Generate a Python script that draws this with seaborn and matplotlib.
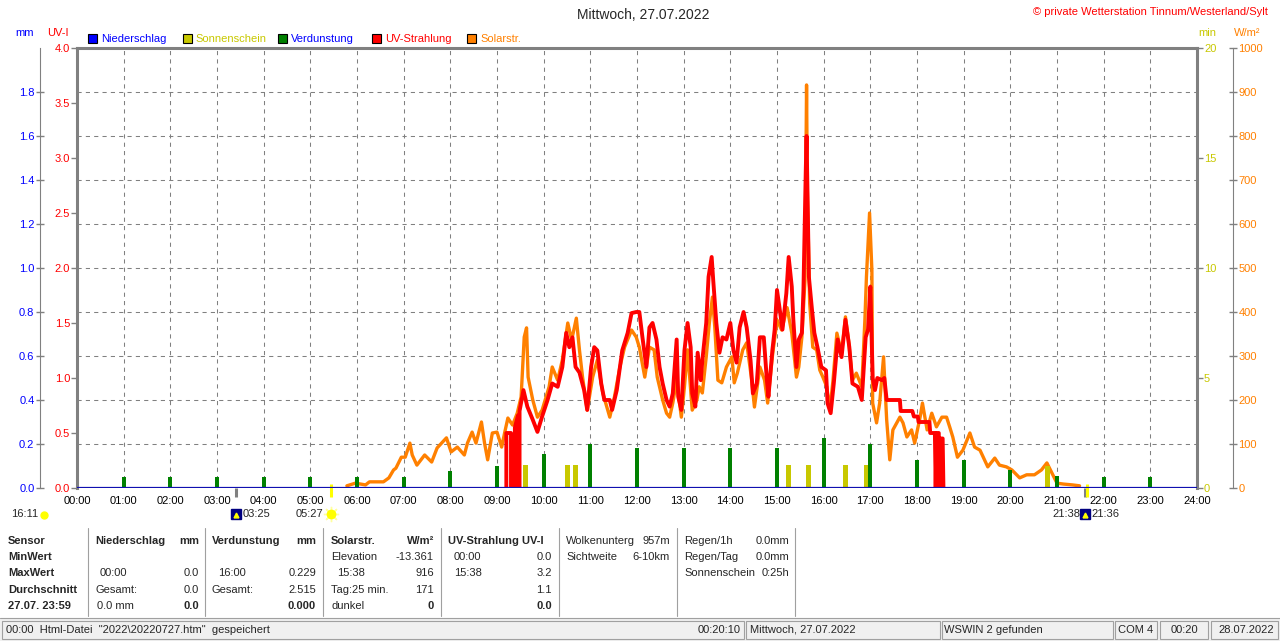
import matplotlib
matplotlib.use("Agg")
import matplotlib.pyplot as plt
import seaborn as sns
from matplotlib.patches import Rectangle

# Tagesgrafik WSWIN, Mittwoch 27.07.2022

# Solarstrahlung W/m2
solar_time = ["05:47", "05:58", "06:11", "06:16", "06:22", "06:34", "06:41", "06:47", "06:50", "06:57",
              "07:02", "07:08", "07:11", "07:17", "07:27", "07:36", "07:43", "07:55", "08:01", "08:09",
              "08:18", "08:22", "08:28", "08:33", "08:40", "08:44", "08:48", "08:54", "09:00", "09:06",
              "09:10", "09:14", "09:20", "09:26", "09:31", "09:35", "09:38", "09:40", "09:46", "09:52",
              "09:58", "10:07", "10:11", "10:18", "10:24", "10:31", "10:36", "10:42", "10:46", "10:50",
              "10:56", "11:03", "11:09", "11:16", "11:25", "11:31", "11:38", "11:44", "11:53", "11:59",
              "12:03", "12:10", "12:16", "12:22", "12:26", "12:33", "12:38", "12:42", "12:46", "12:51",
              "12:57", "13:01", "13:05", "13:11", "13:17", "13:20", "13:24", "13:29", "13:33", "13:37",
              "13:40", "13:44", "13:49", "13:55", "14:02", "14:05", "14:09", "14:16", "14:21", "14:27",
              "14:31", "14:38", "14:44", "14:48", "14:54", "15:00", "15:06", "15:13", "15:19", "15:25",
              "15:28", "15:32", "15:36", "15:38", "15:39", "15:42", "15:46", "15:51", "15:55", "15:59",
              "16:04", "16:08", "16:12", "16:17", "16:23", "16:28", "16:32", "16:37", "16:42", "16:49",
              "16:53", "16:55", "16:59", "17:02", "17:03", "17:08", "17:12", "17:17", "17:21", "17:25",
              "17:29", "17:34", "17:38", "17:42", "17:47", "17:53", "17:57", "18:04", "18:07", "18:13",
              "18:19", "18:25", "18:32", "18:38", "18:42", "18:46", "18:52", "18:59", "19:08", "19:14",
              "19:21", "19:31", "19:40", "19:46", "19:55", "20:02", "20:12", "20:21", "20:31", "20:40",
              "20:47", "20:53", "21:00", "21:08", "21:20", "21:29"]
solar_wm2 = [5, 11, 7, 14, 14, 14, 23, 41, 45, 70,
             70, 102, 75, 52, 75, 59, 91, 114, 82, 93,
             75, 102, 127, 102, 150, 102, 64, 125, 127, 93,
             127, 159, 143, 170, 207, 343, 364, 252, 200, 161,
             177, 230, 275, 245, 291, 375, 336, 386, 314, 252,
             177, 252, 291, 216, 161, 207, 275, 320, 359, 343,
             320, 252, 320, 314, 252, 200, 170, 161, 193, 245,
             161, 230, 314, 177, 200, 230, 216, 298, 375, 434,
             366, 245, 239, 275, 298, 239, 261, 314, 330, 252,
             184, 275, 245, 193, 298, 382, 359, 410, 352, 252,
             275, 343, 473, 916, 677, 420, 320, 314, 268, 252,
             230, 177, 245, 352, 307, 389, 336, 245, 261, 230,
             382, 480, 625, 495, 193, 148, 193, 298, 155, 64,
             132, 148, 161, 148, 116, 132, 102, 161, 193, 132,
             170, 139, 161, 161, 139, 116, 70, 86, 125, 93,
             86, 48, 68, 52, 48, 41, 23, 30, 30, 41,
             57, 36, 11, 9, 7, 5]

# UV-Strahlung UV-I
uv_time = ["09:12", "09:12", "09:18", "09:18", "09:23", "09:23", "09:27", "09:27", "09:29", "09:29",
           "09:34", "09:39", "09:46", "09:52", "09:58", "10:05", "10:11", "10:18", "10:24", "10:29",
           "10:33", "10:37", "10:41", "10:46", "10:52", "10:56", "11:01", "11:05", "11:09", "11:14",
           "11:18", "11:25", "11:28", "11:34", "11:38", "11:41", "11:48", "11:53", "11:59", "12:03",
           "12:07", "12:12", "12:16", "12:20", "12:25", "12:29", "12:33", "12:38", "12:42", "12:46",
           "12:51", "12:53", "12:57", "13:01", "13:05", "13:09", "13:11", "13:15", "13:18", "13:22",
           "13:24", "13:29", "13:32", "13:36", "13:38", "13:42", "13:46", "13:50", "13:55", "14:00",
           "14:04", "14:08", "14:12", "14:17", "14:21", "14:26", "14:29", "14:34", "14:38", "14:43",
           "14:47", "14:49", "14:54", "14:57", "15:00", "15:03", "15:07", "15:12", "15:15", "15:19",
           "15:21", "15:25", "15:28", "15:32", "15:34", "15:37", "15:38", "15:41", "15:45", "15:48",
           "15:52", "15:57", "16:03", "16:05", "16:09", "16:13", "16:18", "16:23", "16:28", "16:33",
           "16:37", "16:44", "16:49", "16:54", "16:57", "17:00", "17:03", "17:06", "17:09", "17:15",
           "17:18", "17:21", "17:38", "17:39", "17:54", "17:56", "18:01", "18:02", "18:16", "18:17",
           "18:23", "18:24", "18:25", "18:28", "18:29", "18:30", "18:33", "18:34"]
uv_index = [0.0, 0.5, 0.5, 0.0, 0.0, 0.55, 0.66, 0.0, 0.0, 0.7,
            0.89, 0.74, 0.62, 0.51, 0.65, 0.8, 0.95, 0.92, 1.1, 1.41,
            1.28, 1.37, 1.1, 1.05, 0.89, 0.71, 1.1, 1.28, 1.25, 0.95,
            0.8, 0.8, 0.71, 0.89, 1.1, 1.25, 1.41, 1.59, 1.6, 1.6,
            1.37, 1.1, 1.46, 1.5, 1.35, 1.1, 0.95, 0.8, 0.74, 0.86,
            1.35, 0.83, 0.71, 1.25, 1.5, 1.28, 0.86, 0.74, 1.23, 0.98,
            1.16, 1.5, 1.92, 2.1, 1.89, 1.5, 1.23, 1.37, 1.35, 1.5,
            1.25, 1.14, 1.46, 1.6, 1.46, 1.16, 0.86, 0.95, 1.37, 1.37,
            0.98, 0.83, 1.25, 1.44, 1.8, 1.65, 1.44, 1.77, 2.1, 1.83,
            1.53, 1.1, 1.35, 1.41, 1.8, 2.89, 3.2, 1.92, 1.62, 1.41,
            1.28, 1.1, 1.07, 0.77, 0.68, 0.95, 1.35, 1.19, 1.53, 1.28,
            0.95, 0.92, 0.8, 1.37, 1.44, 1.83, 1.0, 0.89, 1.0, 0.98,
            1.0, 0.8, 0.8, 0.7, 0.7, 0.65, 0.65, 0.6, 0.6, 0.5,
            0.5, 0.0, 0.5, 0.5, 0.0, 0.45, 0.45, 0.0]

# Verdunstung mm (hourly)
evap_time = ["01:00", "02:00", "03:00", "04:00", "05:00", "06:00", "07:00", "08:00", "09:00", "10:00",
             "11:00", "12:00", "13:00", "14:00", "15:00", "16:00", "17:00", "18:00", "19:00", "20:00",
             "21:00", "22:00", "23:00"]
evap_mm = [0.05, 0.05, 0.05, 0.05, 0.05, 0.05, 0.05, 0.077, 0.10, 0.155,
           0.20, 0.18, 0.18, 0.18, 0.18, 0.229, 0.20, 0.127, 0.127, 0.08,
           0.055, 0.05, 0.05]

# Sonnenschein min
sun_time = ["09:37", "10:31", "10:41", "15:15", "15:40", "16:28", "16:55", "20:48"]
sun_min = [1.05, 1.05, 1.05, 1.05, 1.05, 1.05, 1.05, 1.0]

# Niederschlag mm
rain_time = ["00:00", "06:00", "12:00", "18:00", "24:00"]
rain_mm = [0.0, 0.0, 0.0, 0.0, 0.0]

hour_labels = ["00:00", "01:00", "02:00", "03:00", "04:00", "05:00", "06:00", "07:00", "08:00",
               "09:00", "10:00", "11:00", "12:00", "13:00", "14:00", "15:00", "16:00", "17:00",
               "18:00", "19:00", "20:00", "21:00", "22:00", "23:00", "24:00"]

moon_times = ["03:25", "21:36"]
sun_times = ["05:27", "21:38"]

BLUE = "#0000ff"
RED = "#ff0000"
YELLOW = "#c8c800"
GREEN = "#008000"
ORANGE = "#ff8000"
GRAY = "#808080"
NAVY = "#000080"


def to_hours(times):
    return [int(t[:2]) + int(t[3:]) / 60 for t in times]


sns.set_style("white")
plt.rcParams["font.family"] = ["Liberation Sans", "DejaVu Sans"]
plt.rcParams["font.size"] = 8

fig = plt.figure(figsize=(12.8, 6.41), dpi=100)

# overlay in pixel coordinates for all the window text
ov = fig.add_axes([0, 0, 1, 1])
ov.set_xlim(0, 1280)
ov.set_ylim(641, 0)
ov.axis("off")

ax = fig.add_axes([77 / 1280, 153 / 641, 1120 / 1280, 440 / 641])
sns.lineplot(x=to_hours(solar_time), y=solar_wm2, ax=ax, color=ORANGE, linewidth=2.4,
             estimator=None, sort=False)

ax_min = ax.twinx()
ax_min.bar(to_hours(sun_time), sun_min, width=0.11, color=YELLOW, linewidth=0)

ax_uv = ax.twinx()
sns.lineplot(x=to_hours(uv_time), y=uv_index, ax=ax_uv, color=RED, linewidth=2.8,
             estimator=None, sort=False)

ax_mm = ax.twinx()
ax_mm.bar(to_hours(evap_time), evap_mm, width=0.09, color=GREEN, linewidth=0)
sns.lineplot(x=to_hours(rain_time), y=rain_mm, ax=ax_mm, color="#1010b0", linewidth=1.6,
             estimator=None, sort=False)

for a in (ax, ax_min, ax_uv, ax_mm):
    for s in a.spines.values():
        s.set_visible(False)
    a.set_xlabel("")
    a.set_ylabel("")

ax.set_xlim(0, 24)
ax.set_ylim(0, 1000)
ax_min.set_ylim(0, 20)
ax_uv.set_ylim(0, 4)
ax_mm.set_ylim(0, 2)

# W/m2 axis, right, detached
ax.yaxis.tick_right()
ax.spines["right"].set_visible(True)
ax.spines["right"].set_position(("axes", 1.0321))
ax.spines["right"].set_color(GRAY)
ax.spines["top"].set_visible(True)
ax.spines["top"].set_color(GRAY)
ax.spines["top"].set_linewidth(2.2)
ax.set_yticks(range(0, 1001, 100))
ax.tick_params(axis="y", direction="inout", length=6, width=1, color=GRAY,
               labelcolor=ORANGE, labelsize=8, pad=1)
ax.set_xticks(range(25))
ax.set_xticklabels(hour_labels)
ax.tick_params(axis="x", length=0, pad=6, labelcolor="black", labelsize=8)
ax.grid(True, color=GRAY, linestyle=(0, (4, 4)), linewidth=0.75)

# min axis at the frame
ax_min.spines["right"].set_visible(True)
ax_min.spines["right"].set_color(GRAY)
ax_min.spines["right"].set_linewidth(2.2)
ax_min.set_yticks([0, 5, 10, 15, 20])
ax_min.tick_params(axis="y", direction="out", length=4, width=1, color=GRAY,
                   labelcolor=YELLOW, labelsize=8, pad=1)

# UV-I axis at the frame
ax_uv.yaxis.tick_left()
ax_uv.spines["left"].set_visible(True)
ax_uv.spines["left"].set_color(GRAY)
ax_uv.spines["left"].set_linewidth(2.2)
uv_ticks = [0.0, 0.5, 1.0, 1.5, 2.0, 2.5, 3.0, 3.5, 4.0]
ax_uv.set_yticks(uv_ticks)
ax_uv.set_yticklabels([f"{v:.1f}" for v in uv_ticks])
ax_uv.tick_params(axis="y", direction="out", length=4, width=1, color=GRAY,
                  labelcolor=RED, labelsize=8, pad=1)

# mm axis, left, detached
ax_mm.yaxis.tick_left()
ax_mm.spines["left"].set_visible(True)
ax_mm.spines["left"].set_position(("axes", -0.033))
ax_mm.spines["left"].set_color(GRAY)
mm_ticks = [0.0, 0.2, 0.4, 0.6, 0.8, 1.0, 1.2, 1.4, 1.6, 1.8]
ax_mm.set_yticks(mm_ticks)
ax_mm.set_yticklabels([f"{v:.1f}" for v in mm_ticks])
ax_mm.tick_params(axis="y", direction="inout", length=6, width=1, color=GRAY,
                  labelcolor=BLUE, labelsize=8, pad=1)

# sun / moon rise and set marks below the time axis
xt = ax.get_xaxis_transform()
for t in to_hours(moon_times):
    ax.plot([t, t], [0, -0.02], transform=xt, color=GRAY, lw=2.2, clip_on=False, solid_capstyle="butt")
    ax.plot([t], [-0.059], transform=xt, marker="s", ms=7, color=NAVY, clip_on=False)
    ax.plot([t], [-0.062], transform=xt, marker="^", ms=3.5, color="#ffff00", clip_on=False)
for t in to_hours(sun_times):
    ax.plot([t, t], [0.008, -0.02], transform=xt, color="#ffff00", lw=2.2, clip_on=False,
            solid_capstyle="butt")
rise = to_hours(sun_times)[0]
ax.plot([rise], [-0.059], transform=xt, marker=(8, 2, 0), ms=11, color="#ffffa0", clip_on=False)
ax.plot([rise], [-0.059], transform=xt, marker="o", ms=6, color="#ffff00", clip_on=False)
kw = dict(xycoords=xt, textcoords="offset points", va="center", fontsize=8, annotation_clip=False)
ax.annotate(moon_times[0], xy=(to_hours(moon_times)[0], -0.059), xytext=(4.5, 0), ha="left", **kw)
ax.annotate(sun_times[0], xy=(rise, -0.059), xytext=(-5.5, 0), ha="right", **kw)
ax.annotate(sun_times[1], xy=(to_hours(moon_times)[1], -0.059), xytext=(-3.5, 0), ha="right", **kw)
ax.annotate(moon_times[1], xy=(to_hours(moon_times)[1], -0.059), xytext=(4.5, 0), ha="left", **kw)

# header
ov.text(643, 15, "Mittwoch, 27.07.2022", ha="center", va="center", fontsize=10)
ov.text(1268, 12, "\u00a9 private Wetterstation Tinnum/Westerland/Sylt", ha="right", va="center",
        color=RED, fontsize=8)
ov.text(15, 33, "mm", color=BLUE, va="center")
ov.text(47, 33, "UV-I", color=RED, va="center")
ov.text(1198, 33, "min", color=YELLOW, va="center")
ov.text(1234, 33, "W/m\u00b2", color=ORANGE, va="center")

legend_names = ["Niederschlag", "Sonnenschein", "Verdunstung", "UV-Strahlung", "Solarstr."]
legend_box = [BLUE, YELLOW, GREEN, RED, ORANGE]
legend_text = [BLUE, YELLOW, BLUE, RED, ORANGE]
for i, name in enumerate(legend_names):
    x0 = 88 + i * 94.8
    ov.add_patch(Rectangle((x0, 34), 9, 9, facecolor=legend_box[i], edgecolor="black", lw=0.8))
    ov.text(x0 + 13, 38.5, name, color=legend_text[i], va="center")

# day length
ov.text(11, 514, "16:11", va="center")
ov.plot([44], [515], marker="o", ms=5, color="#ffff00")

# data table under the chart
rows_y = [541, 557, 573, 590, 606]
for i, s in enumerate(["Sensor", "MinWert", "MaxWert", "Durchschnitt", "27.07. 23:59"]):
    ov.text(8, rows_y[i], s, va="center", fontweight="bold")
cells = [
    (95, 0, "Niederschlag", "left", True), (199, 0, "mm", "right", True),
    (100, 2, "00:00", "left", False), (199, 2, "0.0", "right", False),
    (95, 3, "Gesamt:", "left", False), (199, 3, "0.0", "right", False),
    (97, 4, "0.0 mm", "left", False), (199, 4, "0.0", "right", True),
    (212, 0, "Verdunstung", "left", True), (316, 0, "mm", "right", True),
    (218, 2, "16:00", "left", False), (316, 2, "0.229", "right", False),
    (212, 3, "Gesamt:", "left", False), (316, 3, "2.515", "right", False),
    (316, 4, "0.000", "right", True),
    (331, 0, "Solarstr.", "left", True), (434, 0, "W/m\u00b2", "right", True),
    (331, 1, "Elevation", "left", False), (434, 1, "-13.361", "right", False),
    (337, 2, "15:38", "left", False), (434, 2, "916", "right", False),
    (331, 3, "Tag:25 min.", "left", False), (434, 3, "171", "right", False),
    (331, 4, "dunkel", "left", False), (434, 4, "0", "right", True),
    (448, 0, "UV-Strahlung UV-I", "left", True),
    (454, 1, "00:00", "left", False), (552, 1, "0.0", "right", False),
    (454, 2, "15:38", "left", False), (552, 2, "3.2", "right", False),
    (552, 3, "1.1", "right", False), (552, 4, "0.0", "right", True),
    (566, 0, "Wolkenunterg", "left", False), (670, 0, "957m", "right", False),
    (566, 1, "Sichtweite", "left", False), (670, 1, "6-10km", "right", False),
    (684, 0, "Regen/1h", "left", False), (789, 0, "0.0mm", "right", False),
    (684, 1, "Regen/Tag", "left", False), (789, 1, "0.0mm", "right", False),
    (684, 2, "Sonnenschein", "left", False), (789, 2, "0:25h", "right", False),
]
for x0, r, s, ha, bold in cells:
    ov.text(x0, rows_y[r], s, ha=ha, va="center", fontweight="bold" if bold else "normal")
for xs in [88, 205, 323, 441, 559, 677, 795]:
    ov.plot([xs, xs], [528, 616], color="#a0a0a0", lw=0.8)

# status bar
ov.add_patch(Rectangle((0, 618), 1280, 23, facecolor="#f0f0f0", edgecolor="none"))
ov.plot([0, 1280], [618, 618], color="#a0a0a0", lw=0.8)
panels = [(2, 744), (746, 940), (942, 1113), (1115, 1157), (1160, 1208), (1211, 1278)]
for x0, x1 in panels:
    ov.add_patch(Rectangle((x0, 621), x1 - x0, 18, facecolor="none", edgecolor="#a0a0a0", lw=0.8))
status = [(6, "00:00  Html-Datei  \"2022\\20220727.htm\"  gespeichert", "left"),
          (741, "00:20:10", "right"), (750, "Mittwoch, 27.07.2022", "left"),
          (944, "WSWIN 2 gefunden", "left"), (1118, "COM 4", "left"),
          (1171, "00:20", "left"), (1218, "28.07.2022", "left")]
for x0, s, ha in status:
    ov.text(x0, 630, s, ha=ha, va="center")

fig.savefig("out.png", dpi=100)
